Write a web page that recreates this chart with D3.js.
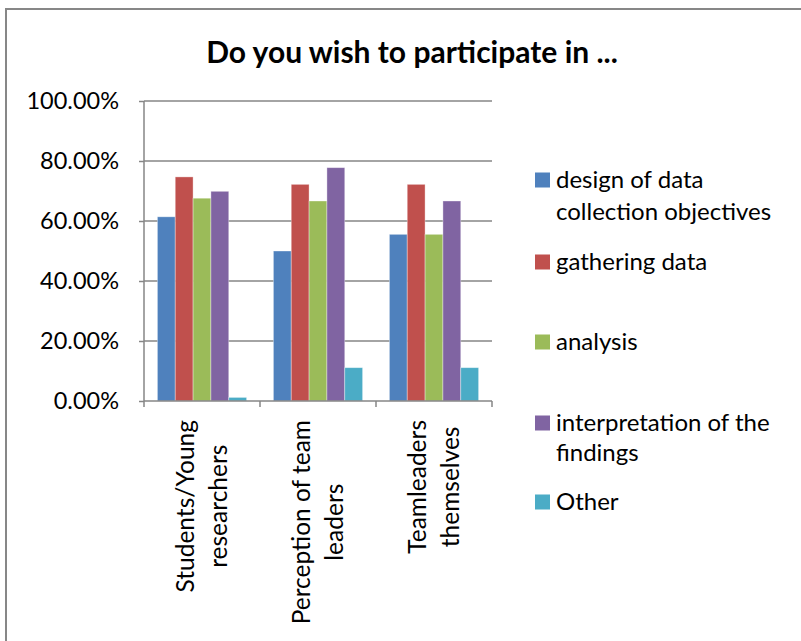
<!DOCTYPE html>
<html>
<head>
<meta charset="utf-8">
<script src="https://cdn.jsdelivr.net/npm/d3@7"></script>
<style>
  body { margin: 0; background: #ffffff; }
  text { font-family: Lato, "Open Sans", sans-serif; fill: #000; }
</style>
</head>
<body>
<svg id="chart" width="801" height="641"></svg>
<script>
var categories = [["Students/Young", "researchers"], ["Perception of team", "leaders"], ["Teamleaders", "themselves"]];
var seriesNames = [["design of data", "collection objectives"], ["gathering data"], ["analysis"], ["interpretation of the", "findings"], ["Other"]];
var seriesColors = ["#4F81BD", "#C0504D", "#9BBB59", "#8064A2", "#4BACC6"];
// one array per series, in category order
var designValues = [0.614, 0.50, 0.5556];
var gatheringValues = [0.747, 0.7222, 0.7222];
var analysisValues = [0.676, 0.6667, 0.5556];
var interpretationValues = [0.699, 0.7778, 0.6667];
var otherValues = [0.012, 0.1111, 0.1111];
var yTicks = [0, 0.2, 0.4, 0.6, 0.8, 1.0];

var seriesValues = [designValues, gatheringValues, analysisValues, interpretationValues, otherValues];

var svg = d3.select("#chart");

// outer chart border
svg.append("rect")
	.attr("x", 6).attr("y", 9)
	.attr("width", 820).attr("height", 660)
	.attr("fill", "none")
	.attr("stroke", "#878787")
	.attr("stroke-width", 2);

svg.append("text")
	.attr("x", 412).attr("y", 63)
	.attr("text-anchor", "middle")
	.style("font-size", "30px")
	.style("font-weight", "bold")
	.text("Do you wish to participate in ...");

var plotLeft = 144, plotRight = 492, plotTop = 101, plotBottom = 401;

var x0 = d3.scaleBand()
	.domain(d3.range(categories.length))
	.range([plotLeft, plotRight]);

var x1 = d3.scaleBand()
	.domain(d3.range(seriesNames.length))
	.range([0, x0.bandwidth()])
	.paddingOuter(0.75);

var y = d3.scaleLinear().domain([0, 1]).range([plotBottom, plotTop]);

// gridlines
svg.append("g")
	.selectAll("line")
	.data(yTicks.slice(1))
	.enter().append("line")
	.attr("x1", plotLeft).attr("x2", plotRight)
	.attr("y1", function(d) { return y(d); })
	.attr("y2", function(d) { return y(d); })
	.attr("stroke", "#868686")
	.attr("stroke-width", 1.5);

// bars
var groups = svg.append("g")
	.selectAll("g")
	.data(categories)
	.enter().append("g")
	.attr("transform", function(d, i) { return "translate(" + x0(i) + ",0)"; });

groups.selectAll("rect")
	.data(function(d, i) { return seriesValues.map(function(vals, s) { return {s: s, v: vals[i]}; }); })
	.enter().append("rect")
	.attr("x", function(d) { return x1(d.s); })
	.attr("width", x1.bandwidth())
	.attr("y", function(d) { return y(d.v); })
	.attr("height", function(d) { return y(0) - y(d.v); })
	.attr("fill", function(d) { return seriesColors[d.s]; })
	.attr("stroke", "rgba(255,255,255,0.45)")
	.attr("stroke-width", 0.8);

// y axis
var yAxis = d3.axisLeft(y)
	.tickValues(yTicks)
	.tickFormat(d3.format(".2%"))
	.tickSize(5)
	.tickPadding(20);

var yg = svg.append("g")
	.attr("transform", "translate(" + plotLeft + ",0)")
	.call(yAxis);
yg.selectAll("path, line").attr("stroke", "#868686").attr("stroke-width", 1.5);
yg.select(".domain").attr("d", "M0," + plotTop + "V" + plotBottom);
yg.selectAll("text")
	.style("font-family", "Lato, 'Open Sans', sans-serif")
	.style("font-size", "23.5px")
	.attr("fill", "#000");

// x axis line and category separators
var xg = svg.append("g");
xg.append("line")
	.attr("x1", plotLeft).attr("x2", plotRight)
	.attr("y1", plotBottom).attr("y2", plotBottom)
	.attr("stroke", "#868686").attr("stroke-width", 1.5);
xg.selectAll("line.tick")
	.data(d3.range(categories.length + 1))
	.enter().append("line")
	.attr("class", "tick")
	.attr("x1", function(i) { return plotLeft + i * x0.bandwidth(); })
	.attr("x2", function(i) { return plotLeft + i * x0.bandwidth(); })
	.attr("y1", plotBottom).attr("y2", plotBottom + 6)
	.attr("stroke", "#868686").attr("stroke-width", 1.5);

// rotated category labels, block top anchored at y=420, lines centred
var labelG = svg.append("g")
	.selectAll("g")
	.data(categories)
	.enter().append("g")
	.attr("transform", function(d, i) { return "translate(" + (x0(i) + x0.bandwidth() / 2) + ",420) rotate(-90)"; });

labelG.each(function(lines) {
	var g = d3.select(this);
	var t = g.selectAll("text")
		.data(lines)
		.enter().append("text")
		.attr("y", function(d, k) { return (k - (lines.length - 1) / 2) * 33.5 + 8.5; })
		.attr("text-anchor", "middle")
		.style("font-size", "24.5px")
		.text(function(d) { return d; });
	var maxW = 0;
	t.each(function() { maxW = Math.max(maxW, this.getComputedTextLength()); });
	t.attr("x", -maxW / 2);
});

// legend
var legendY = [[180, 212], [262], [342], [423, 453], [502]];
var legend = svg.append("g")
	.selectAll("g")
	.data(seriesNames)
	.enter().append("g");

legend.append("rect")
	.attr("x", 535)
	.attr("y", function(d, i) { return legendY[i][0] - 7.5; })
	.attr("width", 15).attr("height", 15)
	.attr("fill", function(d, i) { return seriesColors[i]; });

legend.each(function(lines, i) {
	d3.select(this).selectAll("text")
		.data(lines)
		.enter().append("text")
		.attr("x", 556)
		.attr("y", function(d, k) { return legendY[i][k] + 8; })
		.style("font-size", "24px")
		.text(function(d) { return d; });
});
</script>
</body>
</html>
